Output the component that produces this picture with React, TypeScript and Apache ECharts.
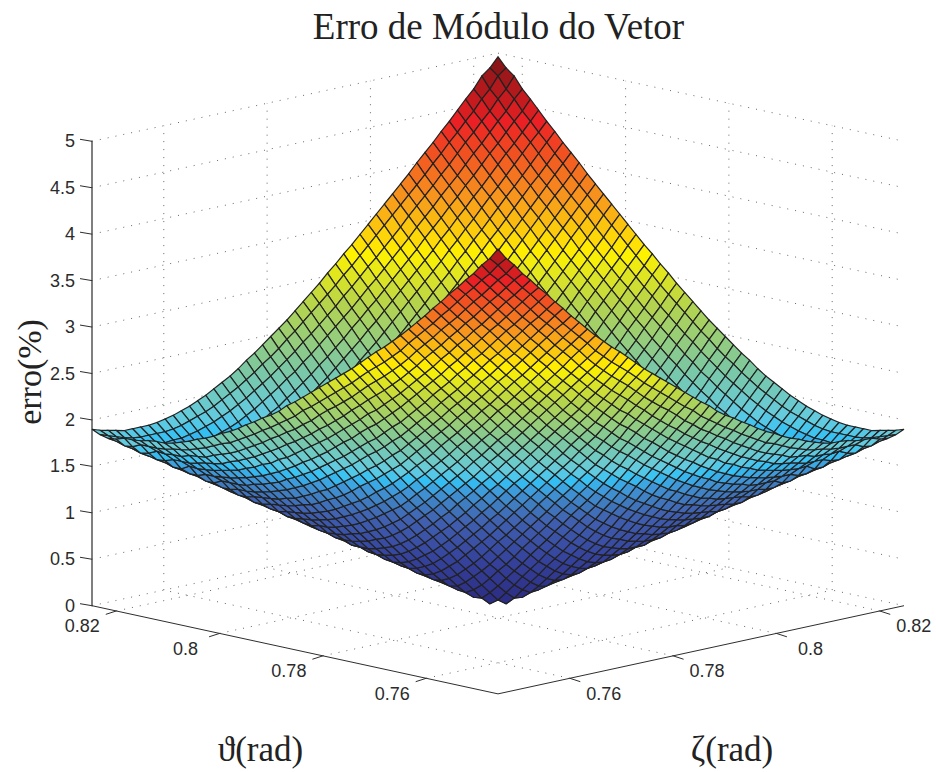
import React, { useEffect, useRef } from "react";
import * as echarts from "echarts";

const titleText = "Erro de Módulo do Vetor";
const zTicks = [0, 0.5, 1, 1.5, 2, 2.5, 3, 3.5, 4, 4.5, 5];
const thetaTicks = [0.76, 0.78, 0.8, 0.82];
const zetaTicks = [0.76, 0.78, 0.8, 0.82];
const centerRad = 0.7854;
const halfRangeRad = 0.0393;
const gridHalf = 25;

// Surface heights, in hundredths of a percent.
// The picture looks mirrored about the valley line and the centre line, so each row
// holds one half: row index = steps from the valley, entries = steps from the centre line.
const halfSurface = [
  [4,11,19,27,34,42,49,57,65,72,80,87,95,103,110,118,125,133,141,148,156,163,171,179,186,194],
  [10,12,18,25,32,39,47,54,62,69,77,84,92,99,107,114,122,130,137,145,152,160,167,175,183,190],
  [20,23,27,33,39,46,53,60,68,75,82,90,97,104,112,119,127,134,142,149,157,165,172,180,187],
  [29,30,33,37,42,48,54,61,67,74,81,89,96,103,110,118,125,133,140,148,155,163,170,177,185],
  [39,41,43,47,52,57,63,69,76,82,89,96,103,110,117,124,132,139,146,153,161,168,175,183],
  [49,49,51,54,57,62,67,72,78,84,90,97,103,110,117,124,131,138,145,152,160,167,174,181],
  [58,59,61,64,68,72,76,82,87,93,99,105,112,118,125,131,138,145,152,159,166,174,181],
  [68,68,70,72,74,78,82,86,91,97,102,108,114,120,126,133,139,146,153,160,167,174,181],
  [78,79,80,82,85,88,92,96,101,107,111,117,123,129,135,141,148,154,161,167,174,181],
  [88,88,89,90,93,95,99,102,107,111,116,121,126,132,138,144,150,156,162,169,175,182],
  [97,98,99,101,103,106,109,113,117,121,126,131,136,141,147,153,159,165,171,177,184],
  [107,107,108,109,111,114,116,120,123,127,131,136,141,146,151,156,162,168,174,180,186],
  [117,117,118,120,122,124,127,130,133,137,141,146,150,155,161,166,171,177,183,189],
  [126,127,127,128,130,132,134,137,140,144,148,152,156,160,165,170,175,181,186,192],
  [136,137,138,139,140,142,145,148,151,154,158,162,166,171,175,180,185,190,196],
  [146,146,147,148,149,151,153,155,158,161,165,168,172,176,181,185,190,195,200],
  [156,156,157,158,159,161,163,166,168,172,175,178,182,186,191,195,200,205],
  [165,166,166,167,168,170,172,174,176,179,182,185,189,193,197,201,205,210],
  [175,175,176,177,178,180,182,184,187,189,192,196,199,203,207,211,215],
  [185,185,185,186,187,189,190,192,195,197,200,203,206,210,213,217,221],
  [195,195,195,196,197,199,201,203,205,208,210,213,216,220,224,228],
  [204,204,205,205,206,208,209,211,213,215,218,221,224,227,230,234],
  [214,214,215,216,217,218,220,221,224,226,228,231,234,237,241],
  [224,224,224,225,226,227,228,230,232,234,236,239,242,245,248],
  [233,234,234,235,236,237,239,240,242,244,247,249,252,255],
  [243,243,244,244,245,246,247,249,251,253,255,257,260,262],
  [253,253,254,254,255,256,258,259,261,263,265,268,270],
  [263,263,263,264,264,265,267,268,270,271,273,276,278],
  [272,273,273,274,274,276,277,278,280,282,284,286],
  [282,282,282,283,284,285,286,287,289,290,292,294],
  [292,292,292,293,294,295,296,297,299,301,303],
  [302,302,302,302,303,304,305,306,308,309,311],
  [311,311,312,312,313,314,315,316,318,320],
  [321,321,321,322,322,323,324,325,327,328],
  [331,331,331,332,333,333,334,336,337],
  [340,340,341,341,342,343,343,345,346],
  [350,350,351,351,352,353,354,355],
  [360,360,360,361,361,362,363,364],
  [370,370,370,371,371,372,373],
  [379,379,380,380,380,381,382],
  [389,389,389,390,390,391],
  [399,399,399,399,400,401],
  [409,409,409,409,410],
  [418,418,419,419,419],
  [428,428,428,429],
  [438,438,438,438],
  [447,447,448],
  [458,458,458],
  [467,467],
  [479,479],
  [486],
  [496],
];

// The front half of the surface stands higher than its mirrored back half away from the
// centre line. Same row index; entries start 13 or 14 steps from the centre line.
const frontExtra = [
  [],
  [0,0,0,0,1,1,1,1,1,1,1,1,1,1,1,1,1,1],
  [0,1,1,2,2,2,3,3,3,4,4,4,4,4,5,5,5,5],
  [1,2,3,4,5,5,6,7,7,8,9,9,10,10,11,11,11],
  [1,2,3,4,5,6,7,8,9,9,10,10,11,12,12,13,13],
  [2,3,5,6,7,8,9,10,10,11,12,13,13,14,14,15],
  [1,3,4,6,7,8,9,10,11,12,13,14,15,15,16,17],
  [2,4,5,7,8,10,11,12,13,14,15,16,17,17,18],
  [1,3,5,6,8,9,10,12,13,14,15,16,17,18,18],
  [2,4,6,7,9,11,12,13,14,15,16,17,18,19],
  [1,3,5,7,9,10,12,13,14,16,17,18,19,20],
  [2,4,6,8,10,11,13,14,16,17,18,19,20],
  [1,3,5,7,9,11,13,14,16,17,18,20,21],
  [2,4,6,8,10,12,14,15,17,18,20,21],
  [1,3,6,8,10,11,13,15,17,18,19,21],
  [2,5,7,9,11,13,14,16,18,19,21],
  [1,3,6,8,10,12,14,16,17,19,20],
  [2,5,7,9,11,13,15,17,18,20],
  [1,3,6,8,10,12,14,16,18,20],
  [2,5,7,9,11,13,15,17,19],
  [1,3,6,8,10,12,14,16,18],
  [2,5,7,9,11,13,15,17],
  [1,3,6,8,10,12,14,16],
  [2,5,7,9,12,14,16],
  [1,3,6,8,11,13,15],
  [2,5,7,9,12,14],
  [1,3,6,8,11,13],
  [2,5,7,10,12],
  [1,4,6,8,11],
  [2,5,7,10],
  [1,4,6,8],
  [2,5,7],
  [1,4,6],
  [2,5],
  [1,4],
  [2],
  [1],
];

const colorStops = [0, 0.12, 0.225, 0.27, 0.305, 0.335, 0.36, 0.44, 0.55, 0.64, 0.745, 0.88, 1];
const colorValues = ["#2b2a80", "#35429c", "#4060b0", "#3f7cc0", "#3f97d8", "#33c1f5", "#62cbe0", "#7dc8a0", "#b5d44c", "#fff200", "#f7941d", "#ed2024", "#7a1315"];
const colorMin = 0.04;
const colorMax = 4.96;

function heightAt(i: number, j: number) {
  const sum = i + j;
  const fromValley = Math.abs(sum + 1);
  const fromCentre = Math.abs(i - j);
  const even = fromValley % 2 === 0;
  let value = halfSurface[fromValley][(fromCentre - (even ? 1 : 0)) / 2];
  const extraIndex = (fromCentre - (even ? 13 : 14)) / 2;
  if (sum < -1 && extraIndex >= 0) value += (frontExtra[fromValley] || [])[extraIndex] || 0;
  return value / 100;
}

function colorFor(v: number) {
  const t = Math.min(1, Math.max(0, (v - colorMin) / (colorMax - colorMin)));
  let k = 0;
  while (k < colorStops.length - 2 && t > colorStops[k + 1]) k++;
  const f = (t - colorStops[k]) / (colorStops[k + 1] - colorStops[k]);
  return echarts.color.lerp(f, [colorValues[k], colorValues[k + 1]]);
}

const floorLift = 44.1 / 92.9; // vertical rise of the floor per normalised unit, in z units

// a: normalised theta, b: normalised zeta, both in [-1, 1]
const project = (a: number, b: number, z: number): [number, number] => [b - a, z + floorLift * (a + b)];
const toNorm = (rad: number) => (rad - centerRad) / halfRangeRad;

type Seg = { p: [number, number]; q: [number, number] };

function buildGridSegments(): Seg[] {
  const out: Seg[] = [];
  const add = (p: [number, number], q: [number, number]) => out.push({ p, q });
  for (const z of zTicks) {
    add(project(1, -1, z), project(1, 1, z));
    add(project(1, 1, z), project(-1, 1, z));
  }
  for (const t of zetaTicks) {
    const b = toNorm(t);
    add(project(1, b, 0), project(1, b, 5));
    add(project(-1, b, 0), project(1, b, 0));
  }
  for (const t of thetaTicks) {
    const a = toNorm(t);
    add(project(a, 1, 0), project(a, 1, 5));
    add(project(a, -1, 0), project(a, 1, 0));
  }
  return out;
}

function buildQuads() {
  const quads: number[][] = [];
  for (let i = -gridHalf; i < gridHalf; i++) {
    for (let j = -gridHalf; j < gridHalf; j++) quads.push([i, j]);
  }
  quads.sort((m, n) => n[0] + n[1] - (m[0] + m[1]));
  return quads;
}

const AXIS_DARK = "#2e2e2e";
const TEXT_DARK = "#2b2b2b";

const serifText = (text: string, x: number, y: number, fontSize: number, rotation = 0) => ({
  type: "text",
  x,
  y,
  rotation,
  style: {
    text,
    align: "center",
    verticalAlign: "middle",
    fontFamily: "Liberation Serif",
    fontSize,
    fill: "#222222",
  },
});

export default function App() {
  const ref = useRef<HTMLDivElement>(null);
  useEffect(() => {
    if (!ref.current) return;
    const chart = echarts.init(ref.current, undefined, { renderer: "svg" });
    const quads = buildQuads();
    const gridSegments = buildGridSegments();
    const frontLeft = project(1, -1, 0);
    const front = project(-1, -1, 0);
    const frontRight = project(-1, 1, 0);
    const ticksData = [
      ...thetaTicks.map((t) => ({ value: [0, 0], kind: "theta", rad: t })),
      ...zetaTicks.map((t) => ({ value: [0, 0], kind: "zeta", rad: t })),
    ];
    const option: any = {
      animation: false,
      backgroundColor: "#ffffff",
      grid: { left: 92, width: 812, top: 141.3, height: 464.4, containLabel: false },
      xAxis: { type: "value", min: -2, max: 2, show: false },
      yAxis: {
        type: "value",
        min: 0,
        max: 5,
        interval: 0.5,
        splitLine: { show: false },
        axisLine: { show: true, onZero: false, lineStyle: { color: "#555555", width: 1.5 } },
        axisTick: { show: false },
        axisLabel: {
          margin: 17,
          fontFamily: "Liberation Sans",
          fontSize: 18,
          color: TEXT_DARK,
          verticalAlign: "middle",
          padding: [0, 0, 4, 0],
          formatter: (v: number) => String(v),
        },
      },
      series: [
        {
          type: "custom",
          name: "grade",
          z: 1,
          silent: true,
          clip: false,
          data: gridSegments.map((_, k) => [k, 0]),
          encode: { x: 0, y: 1 },
          renderItem: (params: any, api: any) => {
            const seg = gridSegments[params.dataIndex];
            const p = api.coord(seg.p);
            const q = api.coord(seg.q);
            return {
              type: "line",
              shape: { x1: p[0], y1: p[1], x2: q[0], y2: q[1] },
              style: { stroke: "#666666", lineWidth: 1, lineDash: [1, 7] },
            };
          },
        },
        {
          type: "custom",
          name: "eixos",
          z: 2,
          silent: true,
          clip: false,
          data: [[0, 0]],
          renderItem: (_: any, api: any) => {
            const a = api.coord(frontLeft);
            const b = api.coord(front);
            const c = api.coord(frontRight);
            return {
              type: "polyline",
              shape: { points: [a, b, c] },
              style: { stroke: AXIS_DARK, lineWidth: 1, fill: "none" },
            };
          },
        },
        {
          type: "custom",
          name: "marcas",
          z: 3,
          silent: true,
          clip: false,
          data: ticksData,
          renderItem: (params: any, api: any) => {
            const tick = ticksData[params.dataIndex];
            const n = toNorm(tick.rad);
            const isTheta = tick.kind === "theta";
            const pt = api.coord(isTheta ? project(n, -1, 0) : project(-1, n, 0));
            const sign = isTheta ? -1 : 1;
            return {
              type: "group",
              children: [
                {
                  type: "line",
                  shape: { x1: pt[0], y1: pt[1], x2: pt[0] + sign * 10.5, y2: pt[1] + 3.4 },
                  style: { stroke: AXIS_DARK, lineWidth: 1 },
                },
                {
                  type: "text",
                  style: {
                    x: pt[0] + sign * 34,
                    y: pt[1] + 15.3,
                    text: String(tick.rad),
                    align: "center",
                    verticalAlign: "middle",
                    fontFamily: "Liberation Sans",
                    fontSize: 18,
                    fill: TEXT_DARK,
                  },
                },
              ],
            };
          },
        },
        {
          type: "custom",
          name: "marcasZ",
          z: 3,
          silent: true,
          clip: false,
          data: zTicks.map((v) => [-2, v]),
          encode: { x: 0, y: 1 },
          renderItem: (params: any, api: any) => {
            const pt = api.coord([-2, zTicks[params.dataIndex]]);
            return {
              type: "line",
              shape: { x1: pt[0], y1: pt[1], x2: pt[0] - 12, y2: pt[1] - 2 },
              style: { stroke: AXIS_DARK, lineWidth: 1 },
            };
          },
        },
        {
          type: "custom",
          name: "erro",
          z: 4,
          silent: true,
          clip: false,
          progressive: 0,
          data: quads,
          renderItem: (params: any, api: any) => {
            const [i, j] = quads[params.dataIndex];
            const corners = [
              [i, j],
              [i + 1, j],
              [i + 1, j + 1],
              [i, j + 1],
            ];
            let sum = 0;
            const points = corners.map(([ci, cj]) => {
              const h = heightAt(ci, cj);
              sum += h;
              return api.coord(project(ci / gridHalf, cj / gridHalf, h));
            });
            return {
              type: "polygon",
              shape: { points },
              style: { fill: colorFor(sum / 4), stroke: "#222222", lineWidth: 1.2 },
            };
          },
        },
      ],
      graphic: [
        serifText(titleText, 498.5, 26, 37),
        serifText("erro(%)", 29, 372, 34, Math.PI / 2),
        serifText("ϑ(rad)", 260.5, 749, 35),
        serifText("ζ(rad)", 732, 749, 35),
      ],
    };
    chart.setOption(option);
    return () => chart.dispose();
  }, []);
  return <div ref={ref} style={{ position: "absolute", left: 0, top: 0, width: 936, height: 772 }} />;
}
